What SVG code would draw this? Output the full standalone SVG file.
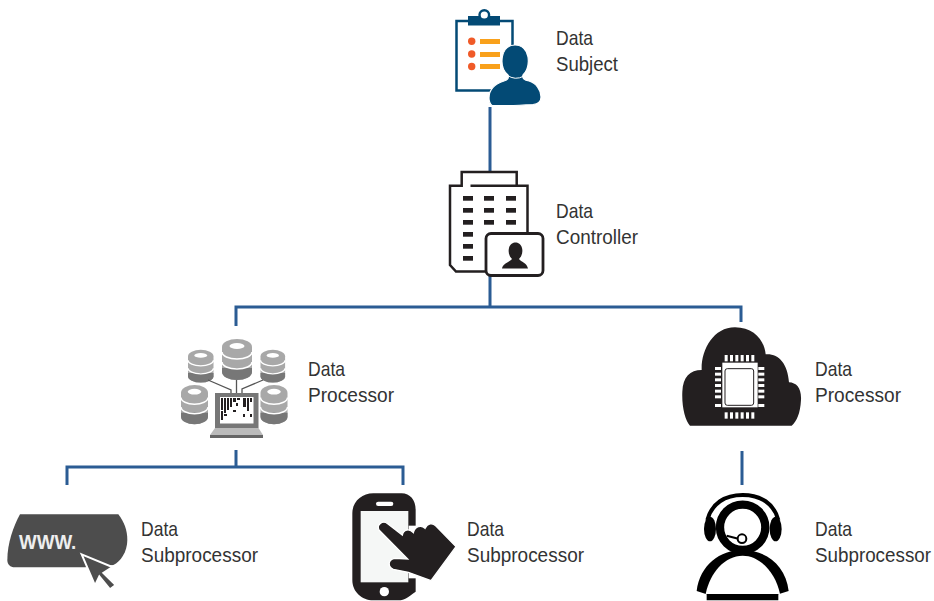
<svg xmlns="http://www.w3.org/2000/svg" xmlns:xlink="http://www.w3.org/1999/xlink" width="934" height="601" viewBox="0 0 934 601">
<style>
.t{font-family:"Liberation Sans",Arial,sans-serif;font-size:21px;fill:#333}
.c{fill:none;stroke:#2b5c94;stroke-width:3}
.k{fill:#231f20}
.w{fill:#fff}
</style>
<defs>
<g id="db">
<path d="M0,9 A15,8 0 0 1 30,9 L30,34 A15,8 0 0 1 0,34 Z" fill="#a8a8a8"/>
<path d="M0,30 L30,30 L30,34 A15,8 0 0 1 0,34 Z" fill="#777"/>
<ellipse cx="15" cy="8" rx="7.500" ry="3" fill="#fff"/>
<path d="M0,14 A15,7 0 0 0 30,14" fill="none" stroke="#fff" stroke-width="1.600"/>
<path d="M0,24 A15,7 0 0 0 30,24" fill="none" stroke="#fff" stroke-width="1.600"/>
</g>
</defs>
<rect width="934" height="601" fill="#fff"/>
<g id="connectors">
<path class="c" d="M490,107V171"/>
<path class="c" d="M490,275V307M236,326V307H741V322"/>
<path class="c" d="M236,450V467M67,485V467H403V485"/>
<path class="c" d="M742,451V485"/>
</g>
<g id="data-subject">
<rect x="456.500" y="21" width="56" height="69.500" fill="#fff" stroke="#034a75" stroke-width="2.500"/>
<rect x="468" y="16" width="32" height="9.500" fill="#034a75"/>
<circle cx="484.300" cy="15" r="4.800" fill="#fff" stroke="#034a75" stroke-width="2.400"/>
<g fill="#f05a28"><circle cx="471.700" cy="41.300" r="3.700"/><circle cx="471.700" cy="54" r="3.700"/><circle cx="471.700" cy="66.500" r="3.700"/></g>
<g fill="#f9a11b"><rect x="480" y="39" width="20" height="5"/><rect x="480" y="52" width="20" height="5"/><rect x="480" y="64" width="20" height="5"/></g>
<path d="M489,98C489,89 495,84 504,81C508,80 509,78 508,75C503,71 501,64 502.500,56C504,49 509,45 515,45C522,45 527,50 528,57C529,64 527,71 523,75C522,78 524,80 529,81C536,83 541,90 541,97C541,101 538,104 533,104.500C515,105.500 503,106 492,105.500C489,103 489,101 489,98Z" fill="#034a75" stroke="#fff" stroke-width="1.200"/>
<path d="M507,75Q515,81 524,76" fill="none" stroke="#fff" stroke-width="1"/>
<text class="t" x="556" y="45" textLength="37" lengthAdjust="spacingAndGlyphs">Data</text><text class="t" x="556" y="71" textLength="62" lengthAdjust="spacingAndGlyphs">Subject</text>
</g>
<g id="data-controller">
<path d="M516.700,185.700V172H461.700V185.700H450V265L456,271.500H490M470.500,185.700H527.500V240" fill="none" stroke="#231f20" stroke-width="2.500"/>
<g class="k">
<rect x="463" y="196" width="10" height="4.700"/><rect x="484" y="196" width="10" height="4.700"/><rect x="506" y="196" width="10" height="4.700"/>
<rect x="463" y="208" width="10" height="4.700"/><rect x="484" y="208" width="10" height="4.700"/><rect x="506" y="208" width="10" height="4.700"/>
<rect x="463" y="220" width="10" height="4.700"/><rect x="484" y="220" width="10" height="4.700"/><rect x="506" y="220" width="10" height="4.700"/>
<rect x="463" y="232" width="10" height="4.700"/><rect x="463" y="244" width="10" height="4.700"/><rect x="463" y="256" width="10" height="4.700"/>
</g>
<rect x="486" y="233.500" width="57" height="42" rx="5" fill="#fff" stroke="#231f20" stroke-width="2.800"/>
<path class="k" d="M502,268.500C503,263 510,262 512,259C509,256 508,252 509,248C510,244 513,242.500 515.500,242.500C518,242.500 521,244 522,248C523,252 522,256 519,259C521,262 527,263 528,268.500Z"/>
<text class="t" x="556" y="218" textLength="37" lengthAdjust="spacingAndGlyphs">Data</text><text class="t" x="556" y="244" textLength="82" lengthAdjust="spacingAndGlyphs">Controller</text>
</g>
<g id="data-processor-1">
<use xlink:href="#db" href="#db" transform="translate(188,349) scale(.85,.8)"/>
<use xlink:href="#db" href="#db" transform="translate(222,338)"/>
<use xlink:href="#db" href="#db" transform="translate(260.500,349) scale(.82,.8)"/>
<use xlink:href="#db" href="#db" transform="translate(181,384) scale(.9,.96)"/>
<use xlink:href="#db" href="#db" transform="translate(260.500,384) scale(.9,.96)"/>
<path d="M208,380L231,390V394M236.500,380V394M263,380L242,389V394" fill="none" stroke="#555" stroke-width="1.300"/>
<rect x="215" y="393" width="43.500" height="35" fill="#777"/>
<rect x="220" y="397" width="33.500" height="26.500" fill="#fff"/>
<path d="M215,428H258.500L263,435H210Z" fill="#bbb"/>
<rect x="210" y="435" width="53" height="3" fill="#666"/>
<path class="k" d="M221,398h2v12h-2zM224,398h2v15h-2zM227,398h2v12h-2zM230,398h2v9h-2zM233,398h3v4h-3zM237,398h3v2h-3zM243,398h3v9h-3zM247,398h2v13h-2zM250,398h2v4h-2zM221,411h2v9h-2zM224,414h3v2h-3zM233,410h3v2h-3zM236,403h2v3h-2zM243,414h2v3h-2zM250,414h2v3h-2z"/>
<text class="t" x="308" y="376" textLength="37" lengthAdjust="spacingAndGlyphs">Data</text><text class="t" x="308" y="402" textLength="86" lengthAdjust="spacingAndGlyphs">Processor</text>
</g>
<g id="data-processor-2">
<g transform="translate(675,320) scale(.3333)">
<path class="k" d="M45,317C30,300 20,260 22,215C24,170 45,150 80,150C78,90 115,22 180,22C235,22 268,60 272,103C310,100 338,130 342,187C365,188 380,205 378,240C376,280 365,305 350,317Z"/>
<rect class="w" x="142" y="128" width="106" height="134"/>
<rect x="150" y="146" width="86" height="110" rx="7" fill="#fff" stroke="#231f20" stroke-width="3"/>
<g class="w">
<rect x="149" y="105" width="9" height="19"/><rect x="165" y="105" width="9" height="19"/><rect x="181" y="105" width="9" height="19"/><rect x="197" y="105" width="9" height="19"/><rect x="213" y="105" width="9" height="19"/><rect x="229" y="105" width="9" height="19"/>
<rect x="149" y="277" width="9" height="19"/><rect x="165" y="277" width="9" height="19"/><rect x="181" y="277" width="9" height="19"/><rect x="197" y="277" width="9" height="19"/><rect x="213" y="277" width="9" height="19"/><rect x="229" y="277" width="9" height="19"/>
<rect x="120" y="141" width="18" height="9"/><rect x="120" y="158" width="18" height="9"/><rect x="120" y="175" width="18" height="9"/><rect x="120" y="192" width="18" height="9"/><rect x="120" y="209" width="18" height="9"/><rect x="120" y="226" width="18" height="9"/><rect x="120" y="252" width="18" height="9"/>
<rect x="250" y="141" width="18" height="9"/><rect x="250" y="158" width="18" height="9"/><rect x="250" y="175" width="18" height="9"/><rect x="250" y="192" width="18" height="9"/><rect x="250" y="209" width="18" height="9"/><rect x="250" y="226" width="18" height="9"/><rect x="250" y="252" width="18" height="9"/>
</g>
</g>
<text class="t" x="815" y="376" textLength="37" lengthAdjust="spacingAndGlyphs">Data</text><text class="t" x="815" y="402" textLength="86" lengthAdjust="spacingAndGlyphs">Processor</text>
</g>
<g id="data-subprocessor-1">
<g transform="translate(0,505) scale(.3333)">
<path d="M60,28H355C372,50 382,75 382,105C382,140 362,170 340,180L255,187H45C30,187 22,178 22,165C22,115 40,65 60,28Z" fill="#4d4d4d"/>
<text x="57" y="132" font-family="Liberation Sans,sans-serif" font-weight="700" font-size="60" fill="#eee" textLength="172" lengthAdjust="spacingAndGlyphs">WWW.</text>
<path d="M245,148L337,186L310,204L347,240L330,253L298,214L285,241Z" fill="#4d4d4d" stroke="#fff" stroke-width="6"/>
</g>
<text class="t" x="141" y="536" textLength="37" lengthAdjust="spacingAndGlyphs">Data</text><text class="t" x="141" y="562" textLength="117" lengthAdjust="spacingAndGlyphs">Subprocessor</text>
</g>
<g id="data-subprocessor-2">
<g transform="translate(345,485) scale(.3333)">
<path class="k" d="M85,25H170C195,25 212,45 212,75V320C190,335 180,346 160,346H85C50,346 22,320 22,285V85C22,50 50,25 85,25Z"/>
<rect x="47" y="78" width="143" height="214" fill="#f5f7f6"/>
<rect x="191" y="122" width="30" height="158" fill="#fff"/>
<rect x="93" y="50" width="52" height="13" rx="6.500" fill="#fff"/>
<circle cx="118" cy="320" r="14" fill="#fff"/>
<path class="k" stroke="#fff" stroke-width="4" d="M102,135C94,120 112,104 128,116L172,150C175,135 192,128 205,143C210,125 228,118 240,130C248,115 262,112 272,122L333,185L258,287L190,262L145,253C128,246 128,225 148,220L188,222Z"/>
</g>
<text class="t" x="467" y="536" textLength="37" lengthAdjust="spacingAndGlyphs">Data</text><text class="t" x="467" y="562" textLength="117" lengthAdjust="spacingAndGlyphs">Subprocessor</text>
</g>
<g id="data-subprocessor-3">
<g transform="translate(690,485) scale(.3333)">
<path d="M52,105C65,55 105,30 158,30C212,30 252,55 265,105" fill="none" stroke="#000" stroke-width="12"/>
<ellipse cx="60" cy="132" rx="18" ry="37"/>
<ellipse cx="257" cy="132" rx="18" ry="37"/>
<circle cx="158" cy="127" r="68" fill="#fff" stroke="#000" stroke-width="25"/>
<path d="M110,152L145,161" stroke="#000" stroke-width="6"/>
<circle cx="156" cy="161" r="13" fill="#fff" stroke="#000" stroke-width="6"/>
<path d="M20,318C30,240 90,195 158,195C226,195 288,240 296,318L265,328V346H50V328Z"/>
<path class="w" d="M47,327C60,262 105,212 158,212C210,212 257,262 270,327Z"/>
</g>
<text class="t" x="815" y="536" textLength="37" lengthAdjust="spacingAndGlyphs">Data</text><text class="t" x="815" y="562" textLength="116" lengthAdjust="spacingAndGlyphs">Subprocessor</text>
</g>
</svg>
